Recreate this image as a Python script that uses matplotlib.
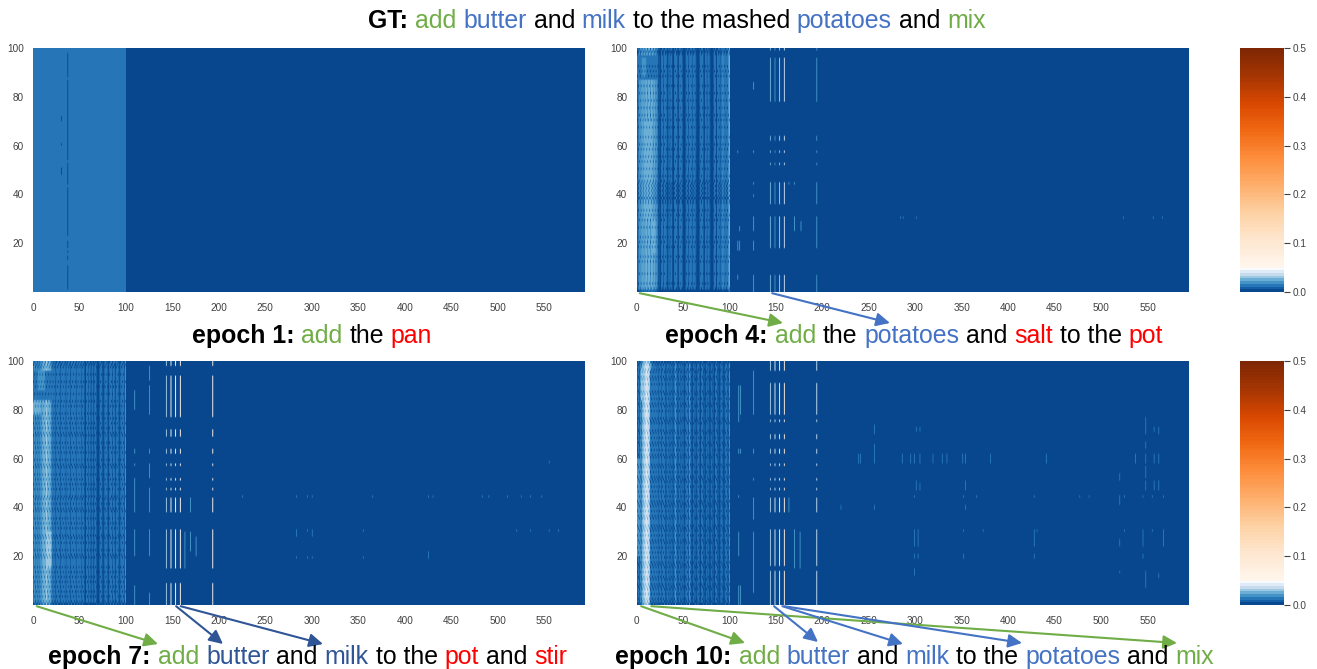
import numpy as np
import matplotlib
matplotlib.use("Agg")
import matplotlib.pyplot as plt
from matplotlib.colors import ListedColormap

plt.rcParams["font.family"] = ["Liberation Sans", "DejaVu Sans"]

W, H = 1317, 669
N_ROWS, N_COLS = 100, 594
GREEN, BLUE, DARKBLUE, RED, BLACK = "#70ad47", "#4472c4", "#2f5597", "#ff0000", "#000000"

# ----------------------- Data -----------------------
x_ticks = list(range(0, 551, 50))
y_ticks = [20, 40, 60, 80, 100]
cbar_ticks = [0.0, 0.1, 0.2, 0.3, 0.4, 0.5]

# epoch 1: flat block on the first 100 frames, one dark line at frame 37
e1_block_value = 0.012
e1_line_rows = [(1, 11), (13, 15), (16, 17), (18, 21), (23, 43), (44, 53), (54, 87), (88, 98)]
e1_dots = [(30, 48, 51), (30, 60, 61), (30, 70, 72)]

# colour level (0-9) of each of the first 100 frames
profile_e4 = [1, 2, 3, 3, 3, 4, 3, 4, 3, 4, 4, 3, 4, 4, 3, 4, 4, 3, 4, 3, 3, 3, 2, 0, 1,
              0, 2, 2, 1, 2, 2, 2, 0, 1, 2, 1, 2, 2, 0, 0, 2, 2, 2, 1, 0, 2, 2, 2, 2, 0,
              0, 0, 1, 2, 2, 1, 2, 2, 2, 1, 2, 2, 2, 1, 0, 0, 0, 1, 2, 2, 2, 1, 0, 2, 2,
              1, 2, 2, 1, 0, 0, 0, 1, 2, 2, 0, 2, 2, 2, 1, 2, 2, 3, 2, 2, 2, 2, 2, 3, 4]
profile_e7 = [2, 3, 2, 3, 2, 3, 2, 3, 3, 3, 4, 4, 4, 4, 5, 4, 4, 4, 4, 3, 2, 2, 2, 2, 1,
              2, 2, 2, 2, 1, 2, 2, 2, 2, 2, 1, 2, 2, 2, 2, 1, 2, 2, 2, 2, 2, 1, 2, 2, 2,
              2, 2, 1, 2, 2, 1, 0, 2, 2, 1, 2, 2, 0, 2, 2, 0, 2, 2, 1, 0, 0, 1, 2, 2, 1,
              0, 1, 2, 2, 2, 1, 0, 2, 2, 2, 1, 2, 2, 0, 2, 2, 2, 1, 0, 2, 2, 2, 2, 1, 3]
profile_e10 = [1, 2, 1, 3, 2, 4, 5, 5, 6, 6, 7, 6, 6, 5, 4, 3, 2, 2, 2, 2, 2, 1, 2, 1, 2,
               2, 1, 2, 2, 2, 1, 1, 2, 2, 1, 2, 1, 2, 1, 1, 2, 3, 2, 1, 1, 2, 1, 2, 1, 2,
               1, 0, 2, 2, 2, 1, 3, 2, 1, 0, 2, 1, 2, 0, 1, 2, 2, 1, 0, 2, 2, 1, 1, 0, 2,
               1, 2, 1, 0, 1, 2, 1, 1, 0, 2, 2, 1, 1, 0, 1, 2, 2, 1, 0, 1, 2, 2, 1, 1, 3]

# rows where every third frame drops two levels, this gives the broken streaks
breaks_e4 = [[0, 1, 14, 22, 31, 36, 37, 39, 41, 43, 47, 55, 63, 70, 78, 88, 97, 98],
             [0, 3, 18, 26, 33, 38, 40, 42, 44, 50, 58, 67, 75, 84, 92, 98],
             [0, 7, 12, 20, 29, 38, 45, 53, 60, 72, 81, 90, 99]]
breaks_e7 = [[0, 5, 11, 19, 25, 31, 38, 44, 49, 56, 62, 69, 74, 83, 91, 98],
             [0, 3, 9, 15, 22, 28, 35, 41, 47, 53, 59, 66, 72, 78, 86, 94, 99],
             [1, 7, 13, 20, 27, 33, 39, 43, 51, 57, 64, 70, 76, 81, 89, 97]]
breaks_e10 = [[0, 4, 8, 13, 17, 23, 28, 32, 38, 42, 48, 52, 57, 63, 68, 74, 79, 84, 90, 96, 99],
              [0, 2, 7, 11, 16, 21, 26, 31, 36, 41, 46, 51, 56, 61, 66, 71, 76, 82, 87, 93, 98],
              [1, 6, 10, 15, 19, 25, 30, 35, 40, 44, 50, 54, 60, 65, 70, 75, 81, 86, 92, 95, 99]]

# (frame from, frame to, row from, row to, level) blocks set by hand
patches_e4 = [(0, 23, 87, 97, 2), (5, 10, 88, 96, 3), (15, 20, 16, 30, 4), (8, 15, 30, 70, 4)]
patches_e7 = [(0, 22, 84, 96, 2), (5, 13, 88, 96, 3), (15, 20, 15, 30, 5), (0, 9, 78, 84, 4)]
patches_e10 = [(14, 22, 0, 96, 2), (4, 8, 84, 97, 5), (0, 3, 20, 60, 3)]

# bright frames and the row spans where they light up
main_cols = [143, 148, 153, 158, 193]
main_rows_e4 = [(0, 7), (18, 31), (36, 45), (52, 53), (57, 58), (62, 64), (78, 96), (99, 100)]
main_rows_e7 = [(0, 9), (15, 31), (38, 44), (47, 48), (51, 52), (57, 58), (62, 64), (69, 72), (77, 94), (98, 100)]
main_rows_e10 = [(0, 14), (16, 31), (38, 44), (47, 48), (51, 52), (57, 58), (62, 64), (68, 70), (75, 76), (78, 91), (96, 100)]
main_values_e4 = [0.025, 0.022, 0.03, 0.035, 0.02]
main_values_e7 = [0.03, 0.06, 0.065, 0.05, 0.06]
main_values_e10 = [0.03, 0.04, 0.04, 0.08, 0.035]

side_cols_e4 = [(125, 0, 7), (125, 17, 21), (125, 25, 31), (125, 39, 40), (125, 44, 45), (125, 57, 58), (125, 83, 86),
                (108, 5, 7), (108, 17, 21), (108, 57, 58), (110, 17, 21), (110, 25, 27),
                (169, 25, 31), (176, 25, 29), (163, 44, 45), (169, 44, 45)]
side_cols_e7 = [(125, 0, 5), (125, 20, 31), (125, 38, 48), (125, 52, 58), (125, 62, 64), (125, 78, 90), (125, 92, 98),
                (109, 0, 8), (109, 20, 31), (109, 38, 52), (109, 57, 58), (109, 62, 64), (109, 80, 88),
                (169, 22, 30), (169, 38, 44), (163, 15, 30), (175, 20, 28)]
side_cols_e10 = [(125, 5, 30), (125, 35, 44), (125, 51, 52), (125, 62, 64), (125, 78, 96),
                 (109, 0, 8), (109, 20, 30), (109, 44, 45), (109, 62, 64), (109, 75, 90), (111, 0, 8), (111, 62, 64), (111, 78, 90),
                 (169, 15, 31), (175, 15, 30), (163, 38, 44)]

# faint dots right of frame 200: (frame, row from, row to)
sparse_e4 = [(283, 30, 31), (286, 30, 31), (300, 30, 31), (523, 30, 31), (555, 30, 31), (565, 30, 31)]
sparse_e7 = [(225, 44, 45), (283, 44, 45), (295, 44, 45), (300, 44, 45), (365, 44, 45), (425, 44, 45), (430, 44, 45),
             (483, 44, 45), (490, 44, 45), (510, 44, 45), (525, 44, 45), (535, 44, 45), (547, 44, 45), (555, 58, 59),
             (283, 28, 31), (295, 30, 31), (300, 28, 31), (355, 30, 31), (520, 30, 31), (535, 30, 31), (555, 30, 31), (565, 30, 31),
             (283, 19, 20), (295, 19, 20), (300, 19, 20), (355, 19, 20), (425, 19, 22)]
sparse_e10 = [(238, 58, 62), (240, 58, 62), (255, 58, 66), (255, 70, 74), (285, 58, 62), (294, 58, 62), (298, 58, 62), (304, 58, 62),
              (318, 58, 62), (328, 58, 62), (333, 58, 62), (350, 58, 62), (353, 58, 62), (380, 58, 62), (440, 58, 62),
              (536, 58, 62), (547, 70, 77), (547, 64, 67), (547, 58, 62), (547, 52, 57), (547, 47, 51), (556, 58, 62), (561, 58, 62),
              (519, 51, 54), (519, 41, 45), (519, 24, 27), (519, 13, 14), (298, 44, 45), (351, 44, 45), (365, 44, 45), (427, 44, 45),
              (476, 44, 45), (486, 44, 45), (524, 44, 45), (544, 44, 45), (554, 44, 45), (566, 44, 45),
              (298, 24, 31), (302, 24, 31), (351, 30, 31), (372, 30, 31), (427, 24, 31), (430, 30, 31), (524, 30, 31), (544, 24, 31),
              (554, 30, 31), (566, 24, 31), (298, 19, 21), (302, 19, 21), (351, 19, 21), (427, 19, 21), (544, 19, 21),
              (300, 71, 73), (304, 71, 73), (556, 71, 73), (561, 70, 73), (353, 47, 51), (556, 47, 51), (561, 47, 51),
              (298, 12, 15), (547, 7, 14), (561, 11, 13), (219, 39, 41), (255, 39, 41), (353, 39, 41), (300, 47, 51), (304, 47, 50)]

captions = {
    "gt": [("GT: ", BLACK, True), ("add ", GREEN, False), ("butter ", BLUE, False), ("and ", BLACK, False), ("milk ", BLUE, False),
           ("to the mashed ", BLACK, False), ("potatoes ", BLUE, False), ("and ", BLACK, False), ("mix", GREEN, False)],
    "e1": [("epoch 1: ", BLACK, True), ("add ", GREEN, False), ("the ", BLACK, False), ("pan", RED, False)],
    "e4": [("epoch 4: ", BLACK, True), ("add ", GREEN, False), ("the ", BLACK, False), ("potatoes ", BLUE, False), ("and ", BLACK, False),
           ("salt ", RED, False), ("to the ", BLACK, False), ("pot", RED, False)],
    "e7": [("epoch 7: ", BLACK, True), ("add ", GREEN, False), ("butter ", DARKBLUE, False), ("and ", BLACK, False), ("milk ", DARKBLUE, False),
           ("to the ", BLACK, False), ("pot ", RED, False), ("and ", BLACK, False), ("stir", RED, False)],
    "e10": [("epoch 10: ", BLACK, True), ("add ", GREEN, False), ("butter ", BLUE, False), ("and ", BLACK, False), ("milk ", BLUE, False),
            ("to the ", BLACK, False), ("potatoes ", BLUE, False), ("and ", BLACK, False), ("mix", GREEN, False)],
}

# ----------------------- Helpers -----------------------
STEP = 0.5 / 90  # one colour level

def build_matrix(profile, breaks, patches, main_rows, main_values, side, sparse):
    levels = np.zeros((N_ROWS, 100))
    for j, level in enumerate(profile):
        levels[:, j] = level
    for c0, c1, r0, r1, level in patches:
        levels[r0:r1, c0:c1] = level
    for k, rows in enumerate(breaks):
        for r in rows:
            levels[r, k::3] -= 2
    m = np.zeros((N_ROWS, N_COLS))
    m[:, :100] = np.clip(levels, 0, 9) * STEP + STEP / 2
    for col, val in zip(main_cols, main_values):
        for lo, hi in main_rows:
            m[lo:hi, col] = val
    for col, lo, hi in side:
        m[lo:hi, col] = 0.022
    for col, lo, hi in sparse:
        m[lo:hi, col] = 0.016
    return m

e1 = np.zeros((N_ROWS, N_COLS))
e1[:, :100] = e1_block_value
for lo, hi in e1_line_rows:
    e1[lo:hi, 37] = 0.0
for col, lo, hi in e1_dots:
    e1[lo:hi, col] = 0.0

e4 = build_matrix(profile_e4, breaks_e4, patches_e4, main_rows_e4, main_values_e4, side_cols_e4, sparse_e4)
e7 = build_matrix(profile_e7, breaks_e7, patches_e7, main_rows_e7, main_values_e7, side_cols_e7, sparse_e7)
e10 = build_matrix(profile_e10, breaks_e10, patches_e10, main_rows_e10, main_values_e10, side_cols_e10, sparse_e10)

blue_stops = [.09, .18, .27, .38, .5, .62, .75, .88, 1]
colors = np.vstack([plt.get_cmap("Blues_r")(blue_stops),
                    plt.get_cmap("Oranges")(np.linspace(0, 1, 81))])
cmap = ListedColormap(colors)

fig = plt.figure(figsize=(W / 100, H / 100), dpi=100)

def px_axes(x0, y0, x1, y1):
    return fig.add_axes([x0 / W, 1 - y1 / H, (x1 - x0) / W, (y1 - y0) / H])

def draw_panel(box, matrix):
    ax = px_axes(*box)
    im = ax.imshow(matrix, origin="lower", aspect="auto", cmap=cmap, vmin=0, vmax=0.5,
                   extent=(0, N_COLS, 0, N_ROWS), interpolation="antialiased")
    ax.set_xticks(x_ticks)
    ax.set_yticks(y_ticks)
    ax.tick_params(axis="x", length=0, pad=8, labelsize=7.2, colors="#404040")
    ax.tick_params(axis="y", length=0, pad=6.5, labelsize=7.2, colors="#404040")
    for s in ax.spines.values():
        s.set_visible(False)
    return ax, im

def draw_cbar(box, im):
    cax = px_axes(*box)
    cb = fig.colorbar(im, cax=cax, ticks=cbar_ticks)
    cb.outline.set_visible(False)
    cax.tick_params(length=4.3, width=0.8, pad=2, labelsize=7.2, colors="#404040")

def caption(parts, center_x, baseline_y, size=17.9):
    rend = fig.canvas.get_renderer()
    def width(s, bold):
        t = fig.text(0, 0, s + ".", fontsize=size, fontweight="bold" if bold else "normal")
        t2 = fig.text(0, 0, ".", fontsize=size, fontweight="bold" if bold else "normal")
        w = t.get_window_extent(rend).width - t2.get_window_extent(rend).width
        t.remove()
        t2.remove()
        return w
    widths = [width(s, b) for s, _, b in parts]
    x = center_x - sum(widths) / 2
    for (s, c, b), w in zip(parts, widths):
        fig.text(x / W, 1 - baseline_y / H, s.strip(), color=c, fontsize=size, va="baseline",
                 fontweight="bold" if b else "normal")
        x += w

def arrow(ax, col, end_xy, color, row=-0.5):
    ax.annotate("", xy=(end_xy[0], H - end_xy[1]), xycoords="figure pixels",
                xytext=(col, row), textcoords="data", annotation_clip=False,
                arrowprops=dict(arrowstyle="-|>,head_length=0.55,head_width=0.27", color=color, lw=1.5,
                                shrinkA=0, shrinkB=0, mutation_scale=15))

# ----------------------- Panels -----------------------
ax1, im1 = draw_panel((33, 48, 585, 292), e1)
ax2, im2 = draw_panel((636.5, 48, 1188.5, 292), e4)
ax3, im3 = draw_panel((33, 361, 585, 605), e7)
ax4, im4 = draw_panel((636.5, 361, 1188.5, 605), e10)
draw_cbar((1240, 48, 1284, 292), im2)
draw_cbar((1240, 361, 1284, 605), im4)

caption(captions["gt"], 677, 28)
caption(captions["e1"], 312, 343)
caption(captions["e4"], 914, 343)
caption(captions["e7"], 307, 664)
caption(captions["e10"], 914.5, 664)

arrow(ax2, 3.5, (783, 323), GREEN)
arrow(ax2, 146, (890, 323), BLUE)
arrow(ax3, 4, (158, 644), GREEN)
arrow(ax3, 154, (223, 644), DARKBLUE)
arrow(ax3, 159, (323, 644), DARKBLUE)
arrow(ax4, 5, (745, 643), GREEN)
arrow(ax4, 16, (1177, 643), GREEN)
arrow(ax4, 148, (818, 642), BLUE)
arrow(ax4, 157, (903, 644), BLUE)
arrow(ax4, 159, (1022, 643), BLUE)

fig.savefig("out.png", dpi=100)
